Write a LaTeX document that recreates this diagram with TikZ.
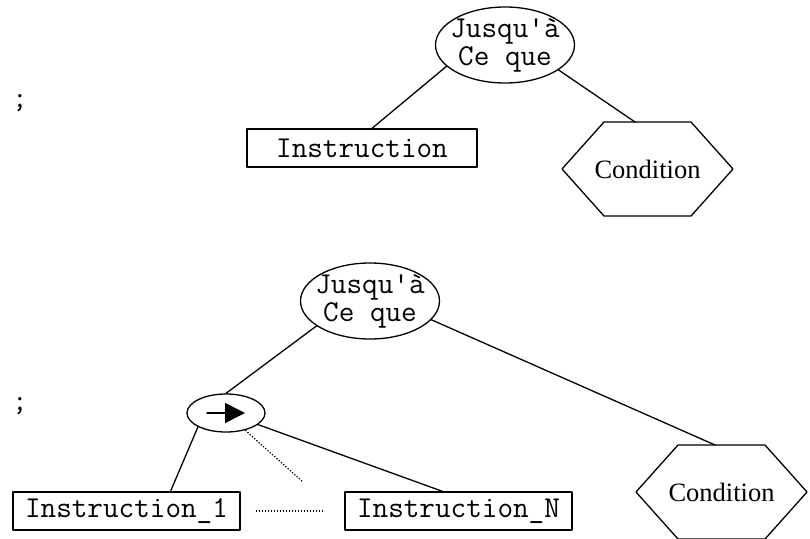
\documentclass[tikz,border=0pt]{standalone}
\usepackage{fontspec}
\setmainfont{Liberation Serif}
\usetikzlibrary{shapes.geometric,arrows.meta}

\begin{document}
\begin{tikzpicture}[x=1pt, y=-1pt, line cap=round, line join=round, line width=1.3pt,
  font=\fontsize{26.5}{28}\selectfont,
  ovalnode/.style={draw, ellipse, minimum width=139pt, minimum height=76pt, inner xsep=-25pt, inner ysep=0pt, align=center, font=\fontsize{30.3}{28}\ttfamily},
  instbox/.style={draw, rectangle, minimum height=38pt, inner xsep=10pt, inner ysep=0pt, font=\fontsize{30.3}{28}\ttfamily},
  seqnode/.style={draw, ellipse, minimum width=78pt, minimum height=38pt, inner sep=0pt},
  semicol/.style={inner sep=0pt, font=\fontsize{30.3}{28}\ttfamily},
  condnode/.style={inner sep=0pt},
  dotline/.style={line width=1.1pt, line cap=butt, dash pattern=on 1.4pt off 1.6pt}]
% Frame
\useasboundingbox (0,0) rectangle (810,538);
% Hexagon sizes
\def\hw{85.5} % half width
\def\hh{47}   % half height
\def\hc{42}   % slanted part
% First tree
\node[semicol] (semi1) at (20,103) {;};
\node[ovalnode] (jq1) at (505,45) {Jusqu'à\\Ce que};
\node[instbox, minimum width=230pt] (inst) at (362,148) {Instruction};
\node[condnode] (cond1) at (647.5,169) {Condition};
% Second tree
\node[semicol] (semi2) at (20,406) {;};
\node[ovalnode] (jq2) at (370,301) {Jusqu'à\\Ce que};
\node[seqnode] (seq) at (226,413) {};
\node[instbox, minimum width=227pt] (inst1) at (126.5,511) {Instruction\_1};
\node[instbox, minimum width=227pt] (instN) at (458.5,511) {Instruction\_N};
\node[condnode] (cond2) at (721.5,492) {Condition};
\coordinate (dots) at (303,482);
% Hexagons round the conditions
\foreach \c in {cond1,cond2} {
  \draw (\c.center) ++(-\hw,0) -- ++(\hc,-\hh) -- ++({2*(\hw-\hc)},0) -- ++(\hc,\hh)
    -- ++(-\hc,\hh) -- ++({-2*(\hw-\hc)},0) -- cycle;
}
\path (cond1.center) ++(-12.5,-\hh) coordinate (c1top);
\path (cond2.center) ++(-6.5,-\hh) coordinate (c2top);
% Branches
\draw (jq1.200) -- ([xshift=10pt]inst.north);
\draw (jq1.-25) -- (c1top);
\draw (jq2.205) -- (seq.north);
\draw (jq2.-17) -- (c2top);
\draw (seq.south west) -- ([xshift=44pt]inst1.north);
\draw (seq) -- ([xshift=-16pt]instN.north);
\draw[dotline] (seq) -- (dots);
\draw[dotline, shorten <=15pt, shorten >=20pt] (inst1) -- (instN);
% Sequence arrow
\draw[-{Triangle[length=20pt,width=20pt]}, line width=1.5pt] ([xshift=-19pt]seq.center) -- ([xshift=19pt]seq.center);
\end{tikzpicture}
\end{document}
